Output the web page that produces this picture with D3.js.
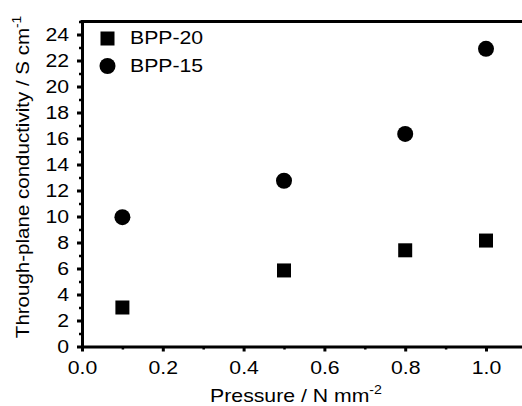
<!DOCTYPE html>
<html lang="en">
<head>
    <meta charset="UTF-8">
    <script src="https://d3js.org/d3.v7.min.js"></script>
    <title>Through-plane conductivity</title>
    <style>
        body { margin: 0; background: #fff; }
        svg { display: block; font-family: "Liberation Sans", Arial, sans-serif; }
    </style>
</head>
<body>
    <div id="chart"></div>

    <script>
        // data
        const pressure = [0.1, 0.5, 0.8, 1.0];
        const bpp20 = [3.0, 5.85, 7.4, 8.15];
        const bpp15 = [9.95, 12.75, 16.35, 22.9];
        const xTicks = [0, 0.2, 0.4, 0.6, 0.8, 1.0];
        const xMinor = [0.1, 0.3, 0.5, 0.7, 0.9, 1.1];
        const yTicks = d3.range(0, 25, 2);
        const yMinor = d3.range(1, 26, 2);

        const width = 522, height = 406;
        const fs = 18, sx = 1.18; // the original lettering is a bit wider than Arial

        const svg = d3.select('#chart').append('svg')
            .attr('width', width)
            .attr('height', height);

        const x = d3.scaleLinear().domain([0, 1.1]).range([82, 82 + 404 * 1.1]);
        const y = d3.scaleLinear().domain([0, 25]).range([346.5, 21.5]);

        // minor ticks first, major on top
        svg.append('g')
            .attr('transform', `translate(0,${y(0)})`)
            .call(d3.axisBottom(x).tickValues(xMinor).tickSize(3).tickFormat(''))
            .call(g => g.select('.domain').remove())
            .selectAll('line').attr('stroke-width', 2.5);
        svg.append('g')
            .attr('transform', `translate(${x(0)},0)`)
            .call(d3.axisLeft(y).tickValues(yMinor).tickSize(3).tickFormat(''))
            .call(g => g.select('.domain').remove())
            .selectAll('line').attr('stroke-width', 2.5);

        const xAxis = svg.append('g')
            .attr('transform', `translate(0,${y(0)})`)
            .call(d3.axisBottom(x).tickValues(xTicks).tickSize(5).tickSizeOuter(0).tickPadding(10)
                .tickFormat(d3.format('.1f')));
        const yAxis = svg.append('g')
            .attr('transform', `translate(${x(0)},0)`)
            .call(d3.axisLeft(y).tickValues(yTicks).tickSize(5).tickSizeOuter(0).tickPadding(6));

        [xAxis, yAxis].forEach(g => {
            g.select('.domain').attr('stroke-width', 3);
            g.selectAll('.tick line').attr('stroke-width', 3);
            g.selectAll('.tick text')
                .attr('font-size', fs)
                .attr('font-family', '"Liberation Sans", Arial, sans-serif')
                .attr('fill', '#000')
                .attr('transform', `scale(${sx},1)`);
        });

        // top frame line
        svg.append('line')
            .attr('x1', x(0) - 1.5).attr('x2', width)
            .attr('y1', y(25)).attr('y2', y(25))
            .attr('stroke', '#000').attr('stroke-width', 3);

        // BPP-20 squares
        const sq = 14;
        svg.append('g').selectAll('rect')
            .data(pressure.map((p, i) => [p, bpp20[i]]))
            .join('rect')
            .attr('x', d => x(d[0]) - sq / 2)
            .attr('y', d => y(d[1]) - sq / 2)
            .attr('width', sq).attr('height', sq)
            .attr('fill', '#000');

        // BPP-15 circles
        svg.append('g').selectAll('circle')
            .data(pressure.map((p, i) => [p, bpp15[i]]))
            .join('circle')
            .attr('cx', d => x(d[0]))
            .attr('cy', d => y(d[1]))
            .attr('r', 8)
            .attr('fill', '#000');

        // legend
        const legend = svg.append('g');
        legend.append('rect')
            .attr('x', 107.5 - sq / 2).attr('y', 38.5 - sq / 2)
            .attr('width', sq).attr('height', sq).attr('fill', '#000');
        legend.append('circle')
            .attr('cx', 107.5).attr('cy', 66).attr('r', 8).attr('fill', '#000');
        legend.append('text').attr('transform', `translate(130,43.5) scale(${sx},1)`)
            .attr('font-size', fs).text('BPP-20');
        legend.append('text').attr('transform', `translate(130,71.5) scale(${sx},1)`)
            .attr('font-size', fs).text('BPP-15');

        // axis titles
        const xt = svg.append('text')
            .attr('transform', `translate(296,401.5) scale(${sx},1)`)
            .attr('text-anchor', 'middle')
            .attr('font-size', fs);
        xt.append('tspan').text('Pressure / N mm');
        xt.append('tspan').attr('dy', -8).attr('font-size', 12).text('-2');

        const yt = svg.append('text')
            .attr('transform', 'translate(28.5,177) rotate(-90) scale(1.14,1)')
            .attr('text-anchor', 'middle')
            .attr('font-size', fs);
        yt.append('tspan').text('Through-plane conductivity / S cm');
        yt.append('tspan').attr('dy', -8).attr('font-size', 12).text('-1');
    </script>
</body>
</html>
